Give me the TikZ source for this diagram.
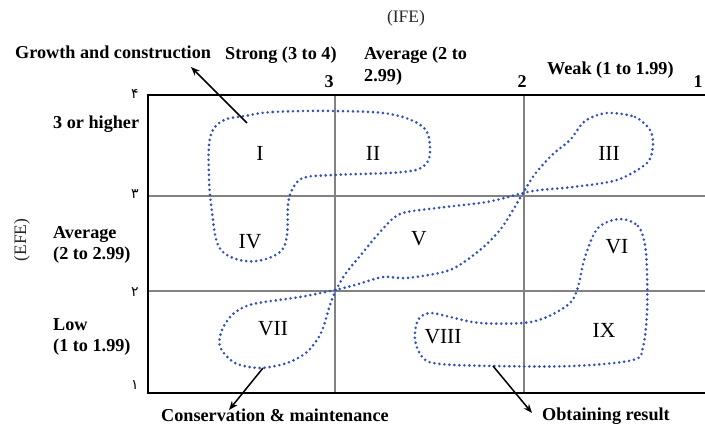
\documentclass[tikz,border=0pt]{standalone}
\usepackage{fontspec}
\setmainfont{Liberation Serif}
\newfontfamily\arabicfont[Script=Arabic]{DejaVu Sans}
\usetikzlibrary{arrows.meta}
\definecolor{dotblue}{RGB}{50,80,185}
\definecolor{gridgray}{RGB}{130,130,130}
\tikzset{
  lbl/.style={font=\fontsize{18.2}{21.5}\selectfont\bfseries, inner sep=0pt, anchor=west, align=left},
  tick/.style={font=\fontsize{18}{20}\selectfont\bfseries, inner sep=0pt},
  roman/.style={font=\fontsize{21.5}{24}\selectfont, inner sep=0pt},
  fa/.style={font=\fontsize{14}{15}\arabicfont, inner sep=0pt},
  axis/.style={font=\fontsize{17.5}{20}\selectfont, inner sep=0pt, text=black!85},
  dotcurve/.style={draw=dotblue, line width=2.9pt, line cap=round, dash pattern=on 0pt off 5pt},
  frame/.style={draw=black, line width=2.4pt},
  gridline/.style={draw=gridgray, line width=1.3pt},
  pointer/.style={draw=black, line width=1.5pt, -{Stealth[length=9pt,width=7pt]}}
}
\begin{document}
\begin{tikzpicture}[x=1pt,y=-1pt]
\useasboundingbox (0,0) rectangle (705,427);
% grid
\draw[gridline] (335,95) -- (335,393);
\draw[gridline] (524,95) -- (524,393);
\draw[gridline] (148,196) -- (705,196);
\draw[gridline] (148,291) -- (705,291);
% frame
\draw[frame] (705,95) -- (148,95) -- (148,393) -- (705,393);
% curve 1 (I, II, IV)
\draw[dotcurve] plot[smooth cycle, tension=0.6] coordinates {
 (245,116) (273,112) (333,111) (390,114) (423,127) (430,148) (425,165) (403,172)
 (333,175) (303,178) (292,190) (288,205) (287,235) (280,252) (257,261) (233,258)
 (218,245) (212,212) (209,178) (210,138) (222,121)};
% curve 2 (III, V, VII)
\draw[dotcurve] plot[smooth cycle, tension=0.5] coordinates {
 (607,113) (635,117) (650,130) (653,145) (647,163) (617,180) (573,187) (540,190)
 (523,193) (487,202) (437,208) (400,214) (380,232) (360,256) (346,273) (336,290)
 (330,305) (321,333) (307,352) (287,363) (260,368) (235,363) (220,347) (222,330)
 (233,314) (253,304) (300,297) (335,290) (355,285) (383,277) (407,278) (450,270)
 (480,250) (500,230) (513,210) (523,193) (535,174) (552,155) (570,140) (585,121)};
% curve 3 (VI, VIII, IX)
\draw[dotcurve] plot[smooth cycle, tension=0.55] coordinates {
 (620,219) (638,226) (645,245) (647,273) (647,313) (643,347) (633,360) (573,366)
 (493,366) (440,364) (423,358) (415,340) (418,320) (430,313) (450,317) (480,323)
 (523,323) (547,317) (570,303) (578,287) (585,257) (598,228)};
% roman numerals
\node[roman] (rI) at (260,153) {I};
\node[roman] (rII) at (373,153) {II};
\node[roman] (rIII) at (609,153) {III};
\node[roman] (rIV) at (250,242) {IV};
\node[roman] (rV) at (419,239) {V};
\node[roman] (rVI) at (617,247) {VI};
\node[roman] (rVII) at (273,329) {VII};
\node[roman] (rVIII) at (443,337) {VIII};
\node[roman] (rIX) at (604,330) {IX};
% axis titles
\node[axis] (ife) at (406,18) {(IFE)};
\node[axis, rotate=90] (efe) at (22,240) {(EFE)};
% top labels
\node[lbl] (growth) at (15,52) {Growth and construction};
\node[lbl] (strong) at (225,55) {Strong (3 to 4)};
\node[lbl] (avgT) at (364,66) {Average (2 to\\2.99)};
\node[lbl] (weak) at (547,70) {Weak (1 to 1.99)};
\node[tick] (t3) at (329,82) {3};
\node[tick] (t2) at (522,82) {2};
\node[tick] (t1) at (698,82) {1};
% left labels
\node[lbl] (high) at (53,124) {3 or higher};
\node[lbl] (avgL) at (53,245) {Average\\(2 to 2.99)};
\node[lbl] (low) at (53,337) {Low\\(1 to 1.99)};
% persian digits
\node[fa] (f4) at (135,94) {۴};
\node[fa] (f3) at (135,194) {۳};
\node[fa] (f2) at (135,292) {۲};
\node[fa] (f1) at (135,385) {۱};
% bottom labels
\node[lbl] (cons) at (161,415) {Conservation \& maintenance};
\node[lbl] (obt) at (542,416) {Obtaining result};
% arrows
\coordinate (gS) at (247,123);
\coordinate (gE) at (191,67);
\coordinate (cS) at (263,368);
\coordinate (cE) at (229,410);
\coordinate (oS) at (493,366);
\coordinate (oE) at (532,413);
\draw[pointer] (gS) -- (gE);
\draw[pointer] (cS) -- (cE);
\draw[pointer] (oS) -- (oE);
\end{tikzpicture}
\end{document}
